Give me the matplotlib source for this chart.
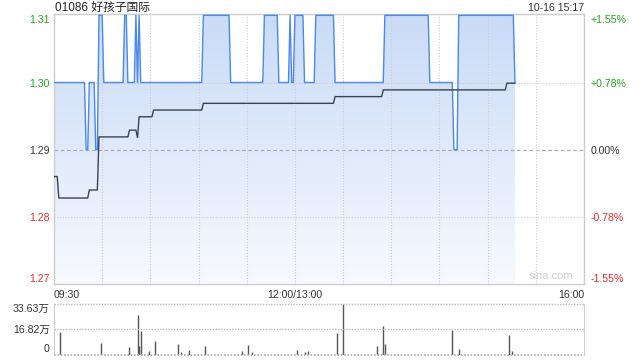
import matplotlib
matplotlib.use("Agg")
import matplotlib.pyplot as plt
import numpy as np
from matplotlib.colors import LinearSegmentedColormap
from matplotlib.patches import PathPatch

plt.rcParams["font.family"] = ["Liberation Sans", "Noto Sans CJK SC"]

title = "01086 好孩子国际"
stamp = "10-16 15:17"
prev_close = 1.29
n_minutes = 288  # 09:30 .. 15:17, lunch break collapsed

# price as steps: minute where a level starts, and the level
price_start = [0, 20, 22, 26, 28, 31, 44, 46, 51, 52, 53, 54, 93, 110, 131,
               140, 147, 148, 150, 156, 163, 175, 206, 234, 249, 252, 287]
price_level = [1.30, 1.29, 1.30, 1.29, 1.31, 1.30, 1.31, 1.30, 1.31, 1.30, 1.31,
               1.30, 1.31, 1.30, 1.31, 1.30, 1.31, 1.30, 1.31, 1.30, 1.31, 1.30,
               1.31, 1.30, 1.29, 1.31, 1.30]

# average price line, same layout
avg_start = [0, 3, 22, 28, 47, 52, 53, 62, 93, 175, 205, 282]
avg_level = [1.2860, 1.2828, 1.2840, 1.2919, 1.2929, 1.2918, 1.2949, 1.2959,
             1.2969, 1.2979, 1.2989, 1.2999]

# volume (万 shares) at the minutes with visible bars
vol_minute = [4, 29, 47, 52, 53, 54, 59, 63, 77, 79, 84, 94, 117, 121, 123, 151,
              156, 158, 176, 180, 201, 205, 206, 248, 252, 283, 285]
vol_value = [15.3, 7.9, 5.0, 26.6, 5.8, 15.8, 2.2, 9.0, 7.0, 1.5, 2.9, 5.6, 2.2,
             6.3, 1.5, 2.9, 1.5, 2.2, 14.0, 33.63, 5.8, 18.7, 7.2, 16.0, 3.8,
             13.3, 2.0]

price_ticks = [1.27, 1.28, 1.29, 1.30, 1.31]
pct_labels = ["-1.55%", "-0.78%", "0.00%", "+0.78%", "+1.55%"]
tick_colors = ["#ee2a2a", "#ee2a2a", "#333333", "#1fa81f", "#1fa81f"]
time_ticks = [0, 150, 330]
time_labels = ["09:30", "12:00/13:00", "16:00"]
vol_ticks = [0, 16.82, 33.63]
vol_labels = ["0", "16.82万", "33.63万"]


def expand_steps(starts, levels, n):
    counts = np.diff(list(starts) + [n])
    return np.repeat(levels, counts)


minutes = np.arange(n_minutes)
price = expand_steps(price_start, price_level, n_minutes)
avg = expand_steps(avg_start, avg_level, n_minutes)

fig = plt.figure(figsize=(6.4, 3.6), dpi=100)
ax = fig.add_axes([54 / 640, 1 - 284 / 360, 530 / 640, 270 / 360])
axv = fig.add_axes([54 / 640, 1 - 354.5 / 360, 530 / 640, 50.5 / 360])

y_lo, y_hi = price_ticks[0], price_ticks[-1] + 0.0002

# gradient fill under the price line
fill = ax.fill_between(minutes, price, y_lo, color="none", lw=0)
clip = PathPatch(fill.get_paths()[0], transform=ax.transData,
                 facecolor="none", edgecolor="none")
ax.add_patch(clip)
cmap = LinearSegmentedColormap.from_list("fade", ["#f7f9fe", "#c9dbf7"])
grad = np.linspace(0, 1, 256).reshape(-1, 1)
im = ax.imshow(grad, cmap=cmap, origin="lower", aspect="auto",
               extent=[0, n_minutes - 1, y_lo, y_hi], zorder=1)
im.set_clip_path(clip)

ax.plot(minutes, price, color="#4a88ee", lw=1.0, zorder=3)
ax.plot(minutes, avg, color="#3b4352", lw=1.0, zorder=4)

ax.set_xlim(0, 330)
ax.set_ylim(y_lo, y_hi)

# grids
for v in price_ticks[1:-1]:
    if v == prev_close:
        ax.axhline(v, color="#b0b0b0", lw=0.9, ls=(0, (3, 2)), zorder=2)
    else:
        ax.axhline(v, color="#cccccc", lw=0.8, ls=(0, (1, 1.5)), zorder=2)
for m in range(30, 330, 30):
    ax.axvline(m, color="#cccccc", lw=0.8, ls=(0, (1, 1.5)), zorder=2)

for s in ax.spines.values():
    s.set_color("#cccccc")
    s.set_linewidth(1.0)

ax.set_yticks(price_ticks)
ax.set_yticklabels([f"{v:.2f}" for v in price_ticks], fontsize=7.6)
for lab, c in zip(ax.get_yticklabels(), tick_colors):
    lab.set_color(c)
ax.get_yticklabels()[0].set_va("bottom")
ax.get_yticklabels()[-1].set_va("top")
ax.tick_params(axis="y", length=0, pad=3)

ax.set_xticks(time_ticks)
ax.set_xticklabels(time_labels, fontsize=7.6, color="#333333")
xl = ax.get_xticklabels()
xl[0].set_ha("left")
xl[-1].set_ha("right")
ax.tick_params(axis="x", length=0, pad=4)

axr = ax.twinx()
axr.set_ylim(y_lo, y_hi)
axr.set_yticks(price_ticks)
axr.set_yticklabels(pct_labels, fontsize=7.6)
for lab, c in zip(axr.get_yticklabels(), tick_colors):
    lab.set_color(c)
axr.get_yticklabels()[0].set_va("bottom")
axr.get_yticklabels()[-1].set_va("top")
axr.tick_params(axis="y", length=0, pad=5)
for s in axr.spines.values():
    s.set_visible(False)

ax.text(0.979, 0.028, "sina.com", transform=ax.transAxes, ha="right",
        va="center", fontsize=8, color="#cfcfcf", zorder=5)

fig.text(55 / 640, 1 - 8 / 360, title, fontsize=8.5, color="#222222",
         ha="left", va="center")
fig.text(584 / 640, 1 - 8 / 360, stamp, fontsize=7.6, color="#333333",
         ha="right", va="center")

# volume panel
axv.vlines(vol_minute, 0, vol_value, color="#555555", lw=1.0)
axv.set_xlim(0, 330)
axv.set_ylim(0, vol_ticks[-1])
for v in vol_ticks[1:]:
    axv.axhline(v, color="#bbbbbb", lw=1.0, ls=(0, (1, 1)), clip_on=False)
axv.axhline(0, color="#aaaaaa", lw=1.2, ls=(0, (1, 1)), clip_on=False)
axv.spines["top"].set_visible(False)
axv.spines["bottom"].set_visible(False)
axv.spines["left"].set_color("#cccccc")
axv.spines["right"].set_color("#cccccc")
axv.set_xticks([])
axv.set_yticks(vol_ticks)
axv.set_yticklabels(vol_labels, fontsize=7.6, color="#333333")
axv.get_yticklabels()[0].set_va("bottom")
axv.get_yticklabels()[-1].set_va("top")
axv.tick_params(axis="y", length=0, pad=3)

fig.savefig("out.png", dpi=100)
